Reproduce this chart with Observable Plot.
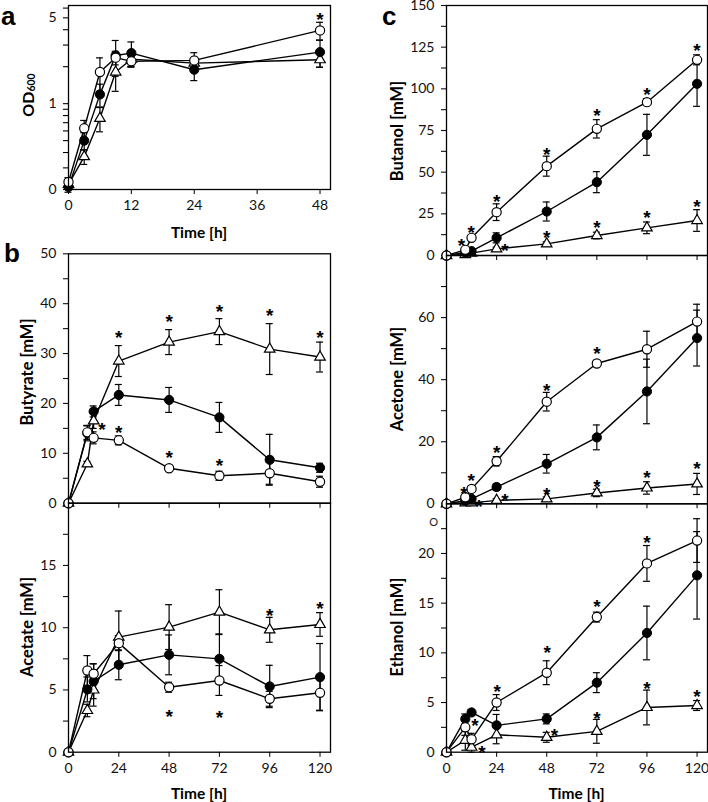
<!DOCTYPE html>
<html><head><meta charset="utf-8">
<script src="https://cdn.jsdelivr.net/npm/d3@7"></script>
<script src="https://cdn.jsdelivr.net/npm/@observablehq/plot@0.6"></script>
<style>
body{margin:0;background:#fff;}
#wrap{position:relative;width:708px;height:802px;overflow:hidden;background:#fff;font-family:Lato,sans-serif;}
#wrap svg{position:absolute;left:0;top:0;}
</style></head><body><div id="wrap"></div>
<script>
// ---------- Panel a: OD600 ----------
const odTimes = [0, 3, 6, 9, 12, 24, 48];
const odOpen = [0.23, 0.63, 1.81, 2.37, 2.21, 2.25, 3.95];
const odOpenSd = [0.02, 0.1, 0.55, 0.3, 0.2, 0.35, 0.65];
const odFilled = [0.21, 0.50, 1.19, 2.47, 2.58, 1.89, 2.63];
const odFilledSd = [0.02, 0.08, 0.25, 0.8, 0.6, 0.35, 0.65];
const odTri = [0.22, 0.37, 0.76, 1.81, 2.3, 2.14, 2.28];
const odTriSd = [0.02, 0.05, 0.17, 0.55, 0.3, 0.2, 0.3];
const odStarT = [48];
const odStarV = [5.4];
const odTicks = [0.2, 1, 5];
const odTickLabels = ["0", "1", "5"];
const odMinor = [0.3, 0.4, 0.5, 0.6, 0.7, 0.8, 0.9, 2, 3, 4, 6];
const odXTicks = [0, 12, 24, 36, 48];

// ---------- Panels b, c: time course ----------
const times = [0, 9, 12, 24, 48, 72, 96, 120];
const timeTicks = [0, 24, 48, 72, 96, 120];

const butyrateOpen = [0, 14.2, 13.1, 12.6, 7.0, 5.5, 6.0, 4.3];
const butyrateOpenSd = [0, 1.4, 1.2, 0.9, 0.4, 0.9, 2.2, 1.1];
const butyrateFilled = [0, 14.0, 18.4, 21.7, 20.7, 17.2, 8.7, 7.1];
const butyrateFilledSd = [0, 1.5, 1.1, 2.1, 2.5, 3.0, 5.1, 0.9];
const butyrateTri = [0, 7.9, 16.5, 28.5, 32.3, 34.4, 30.9, 29.3];
const butyrateTriSd = [0, 0.5, 1.5, 3.1, 2.5, 2.6, 5.1, 3.0];
const butyrateStarT = [16, 24, 24, 48, 48, 72, 72, 96, 120];
const butyrateStarV = [15.9, 15.2, 34.3, 37.6, 10.2, 39.6, 8.6, 38.8, 34.4];

const acetateOpen = [0, 6.56, 6.3, 8.76, 5.22, 5.76, 4.29, 4.77];
const acetateOpenSd = [0, 1.2, 0.8, 0.6, 0.4, 1.2, 0.6, 1.4];
const acetateFilled = [0, 5.04, 5.7, 7.02, 7.82, 7.5, 5.28, 6.03];
const acetateFilledSd = [0, 1.0, 1.4, 1.2, 1.6, 2.0, 1.7, 2.7];
const acetateTri = [0, 3.35, 5.0, 9.24, 10.05, 11.25, 9.83, 10.26];
const acetateTriSd = [0, 0.5, 1.3, 2.1, 1.8, 1.8, 1.0, 0.95];
const acetateStarT = [48, 72, 96, 120];
const acetateStarV = [3.3, 3.2, 11.4, 12.0];

const butanolOpen = [0, 3.4, 10.6, 26, 53.6, 76, 92, 117.4];
const butanolOpenSd = [0, 0.8, 1.5, 5, 6, 5.5, 2, 3];
const butanolFilled = [0, 1.8, 2.6, 10.6, 26.4, 44, 72.4, 103];
const butanolFilledSd = [0, 0.5, 0.8, 3, 5.7, 6.3, 12.3, 13.5];
const butanolTri = [0, 0.6, 1.4, 4, 7, 12, 16.6, 21];
const butanolTriSd = [0, 0.3, 0.5, 1, 1.2, 2, 3.5, 6.5];
const butanolStarT = [7.2, 11.8, 24, 28, 48, 48, 72, 72, 96, 96, 120, 120];
const butanolStarV = [9.4, 17, 36, 6.4, 64, 14, 87.4, 20, 100, 26.4, 126.4, 33];

const acetoneOpen = [0, 2.1, 4.8, 13.7, 32.9, 45.2, 49.8, 58.7];
const acetoneOpenSd = [0, 0.5, 0.8, 1.5, 3, 1, 5.8, 5.6];
const acetoneFilled = [0, 1.0, 1.6, 5.4, 12.9, 21.4, 36.2, 53.4];
const acetoneFilledSd = [0, 0.3, 0.5, 1, 3, 4, 10.4, 9];
const acetoneTri = [0, 0.3, 0.3, 1.1, 1.6, 3.5, 5.1, 6.4];
const acetoneTriSd = [0, 0.2, 0.2, 0.5, 0.6, 1.2, 2, 3.4];
const acetoneStarT = [8.3, 11.8, 24, 15.5, 28, 48, 48, 72, 72, 96, 120];
const acetoneStarV = [5.1, 9.4, 18.4, 0.9, 2.9, 38.4, 4.8, 50.2, 7.3, 10.2, 13.1];

const ethanolOpen = [0, 2.5, 1.3, 5.0, 8.0, 13.6, 19.0, 21.3];
const ethanolOpenSd = [0, 0.8, 0.6, 0.8, 1.2, 0.5, 1.8, 2.2];
const ethanolFilled = [0, 3.35, 4.0, 2.7, 3.35, 7.0, 12.0, 17.8];
const ethanolFilledSd = [0, 0.5, 0.3, 1.1, 0.5, 1.0, 2.7, 4.4];
const ethanolTri = [0, 1.2, 0.5, 1.75, 1.5, 2.1, 4.5, 4.7];
const ethanolTriSd = [0, 1.0, 0.5, 0.9, 0.5, 1.2, 1.75, 0.5];
const ethanolStarT = [13.6, 17, 24.3, 48.2, 51.7, 72, 72, 96, 96, 120];
const ethanolStarV = [3.25, 0.57, 6.7, 10.55, 2.24, 15.2, 4.0, 21.7, 7.0, 6.2];

// ---------- helpers ----------
const W = 708, H = 802;
const FONT = "Lato, 'Open Sans', sans-serif";
const rows = (t, v, e) => t.map((x, i) => ({t: x, v: v[i], e: e[i]}));
const starRows = (t, v) => t.map((x, i) => ({t: x, v: v[i]}));

function yAxisMarks(o) {
  if (o.yType === "log") {
    const x0 = o.xDomain[0];
    const all = [...o.yTicks.map(v => ({v})), ...o.yMinor.map(v => ({v}))];
    const lab = o.yTicks.map((v, i) => ({v, s: o.yLabels[i]}));
    return [
      Plot.ruleY(all, {x1: () => x0, x2: () => x0, y: "v", insetLeft: -5, insetRight: 0, stroke: "black", strokeWidth: 1.1}),
      Plot.text(lab, {x: () => x0, y: "v", text: "s", dx: -12, textAnchor: "end", fontSize: 14, fill: "#111"})
    ];
  }
  return [
    Plot.axisY(o.yMinor, {tickSize: 5, tickFormat: () => "", label: null, strokeWidth: 1.1}),
    Plot.axisY(o.yTicks, {tickSize: 5, tickPadding: 7, tickFormat: d => String(d), label: null, fontSize: 14, strokeWidth: 1.1})
  ];
}

function panel(o) {
  const tri = rows(o.t, o.tri, o.triSd), fil = rows(o.t, o.filled, o.filledSd), opn = rows(o.t, o.open, o.openSd);
  const errMarks = [];
  for (const s of [tri, fil, opn]) {
    const d = s.filter(r => r.e > 0);
    errMarks.push(
      Plot.ruleX(d, {x: "t", y1: r => r.v - r.e, y2: r => r.v + r.e, stroke: "black", strokeWidth: 1.2}),
      Plot.ruleY(d, {x1: "t", x2: "t", y: r => r.v + r.e, insetLeft: -3.5, insetRight: -3.5, stroke: "black", strokeWidth: 1.2}),
      Plot.ruleY(d, {x1: "t", x2: "t", y: r => r.v - r.e, insetLeft: -3.5, insetRight: -3.5, stroke: "black", strokeWidth: 1.2})
    );
  }
  const marks = [
    ...yAxisMarks(o),
    Plot.axisX(o.xTicks, {tickSize: 5, tickPadding: 6, tickFormat: o.xLabels ? (d => String(d)) : () => "", label: null, fontSize: 14, strokeWidth: 1.1}),
    ...errMarks,
    Plot.line(tri, {x: "t", y: "v", stroke: "black", strokeWidth: 1.4}),
    Plot.line(fil, {x: "t", y: "v", stroke: "black", strokeWidth: 1.4}),
    Plot.line(opn, {x: "t", y: "v", stroke: "black", strokeWidth: 1.4}),
    Plot.dot(tri, {x: "t", y: "v", symbol: "triangle", r: 3.9, fill: "white", stroke: "black", strokeWidth: 1.2}),
    Plot.dot(fil, {x: "t", y: "v", r: 4.6, fill: "black", stroke: "black", strokeWidth: 1}),
    Plot.dot(opn, {x: "t", y: "v", r: 4.6, fill: "white", stroke: "black", strokeWidth: 1.2}),
    Plot.text(starRows(o.starT, o.starV), {x: "t", y: "v", text: () => "*", fontSize: 19, fontWeight: "bold", fontFamily: "'Liberation Sans', Arial, sans-serif", dy: 6, fill: "#000"}),
    Plot.frame({stroke: "black", strokeWidth: 1.3}),
    ...(o.extra || [])
  ];
  return Plot.plot({
    width: W, height: H,
    marginLeft: o.box[0], marginRight: W - o.box[1], marginTop: o.box[2], marginBottom: H - o.box[3],
    x: {domain: o.xDomain},
    y: o.yType === "log" ? {type: "log", domain: o.yDomain, axis: null} : {type: "linear", domain: o.yDomain},
    style: {background: "transparent", fontFamily: FONT, fontSize: "14px", color: "#111", overflow: "visible"},
    marks
  });
}

const wrap = document.getElementById("wrap");
const L1 = 68, R1 = 330, L2 = 446, R2 = 707;
const yA = [5, 189], yB = [253.3, 502.7, 751.7], yC = [5, 255, 503.3, 751.7];

wrap.append(panel({
  t: odTimes, open: odOpen, openSd: odOpenSd, filled: odFilled, filledSd: odFilledSd, tri: odTri, triSd: odTriSd,
  starT: odStarT, starV: odStarV, xDomain: [0, 50], xTicks: odXTicks, xLabels: true,
  yType: "log", yDomain: [0.2, 6.3], yTicks: odTicks, yLabels: odTickLabels, yMinor: odMinor, box: [L1, R1, yA[0], yA[1]]
}));
wrap.append(panel({
  t: times, open: butyrateOpen, openSd: butyrateOpenSd, filled: butyrateFilled, filledSd: butyrateFilledSd, tri: butyrateTri, triSd: butyrateTriSd,
  starT: butyrateStarT, starV: butyrateStarV, xDomain: [0, 125], xTicks: timeTicks, xLabels: false,
  yDomain: [0, 50], yTicks: [0, 10, 20, 30, 40, 50], yMinor: [5, 15, 25, 35, 45], box: [L1, R1, yB[0], yB[1]]
}));
wrap.append(panel({
  t: times, open: acetateOpen, openSd: acetateOpenSd, filled: acetateFilled, filledSd: acetateFilledSd, tri: acetateTri, triSd: acetateTriSd,
  starT: acetateStarT, starV: acetateStarV, xDomain: [0, 125], xTicks: timeTicks, xLabels: true,
  yDomain: [0, 20], yTicks: [0, 5, 10, 15], yMinor: [2.5, 7.5, 12.5, 17.5], box: [L1, R1, yB[1], yB[2]]
}));
wrap.append(panel({
  t: times, open: butanolOpen, openSd: butanolOpenSd, filled: butanolFilled, filledSd: butanolFilledSd, tri: butanolTri, triSd: butanolTriSd,
  starT: butanolStarT, starV: butanolStarV, xDomain: [0, 125], xTicks: timeTicks, xLabels: false,
  yDomain: [0, 150], yTicks: [0, 25, 50, 75, 100, 125, 150], yMinor: [12.5, 37.5, 62.5, 87.5, 112.5, 137.5], box: [L2, R2, yC[0], yC[1]]
}));
wrap.append(panel({
  t: times, open: acetoneOpen, openSd: acetoneOpenSd, filled: acetoneFilled, filledSd: acetoneFilledSd, tri: acetoneTri, triSd: acetoneTriSd,
  starT: acetoneStarT, starV: acetoneStarV, xDomain: [0, 125], xTicks: timeTicks, xLabels: false,
  yDomain: [0, 80], yTicks: [0, 20, 40, 60], yMinor: [10, 30, 50, 70], box: [L2, R2, yC[1], yC[2]]
}));
wrap.append(panel({
  t: times, open: ethanolOpen, openSd: ethanolOpenSd, filled: ethanolFilled, filledSd: ethanolFilledSd, tri: ethanolTri, triSd: ethanolTriSd,
  starT: ethanolStarT, starV: ethanolStarV, xDomain: [0, 125], xTicks: timeTicks, xLabels: true,
  yDomain: [0, 25], yTicks: [0, 5, 10, 15, 20], yMinor: [2.5, 7.5, 12.5, 17.5, 22.5], box: [L2, R2, yC[2], yC[3]],
  extra: [Plot.text([{t: -6.1, v: 23.1}], {x: "t", y: "v", text: () => "O", fontSize: 11, fill: "#222"})]
}));

// ---------- titles & panel letters ----------
const svg = d3.select(wrap).append("svg").attr("width", W).attr("height", H)
  .style("font-family", FONT).style("overflow", "visible");
const letters = [["a", 1, 25], ["b", 4, 262], ["c", 382, 25]];
for (const [s, x, y] of letters)
  svg.append("text").attr("x", x).attr("y", y).text(s)
    .style("font-family", "'Liberation Sans', Arial, sans-serif").style("font-weight", 900).style("font-size", "26px");
const xTitles = [[199, 231.7], [199, 793], [576.5, 793]];
for (const [x, y] of xTitles)
  svg.append("text").attr("x", x).attr("y", y).attr("text-anchor", "middle").attr("dominant-baseline", "central")
    .style("font-weight", 700).style("font-size", "15.5px").text("Time [h]");
const yTitles = [["Butyrate [mM]", 27, 372], ["Acetate [mM]", 27, 627], ["Butanol [mM]", 397, 131], ["Acetone [mM]", 397, 379], ["Ethanol [mM]", 397, 627]];
for (const [s, x, y] of yTitles)
  svg.append("text").attr("transform", `translate(${x},${y}) rotate(-90)`).attr("text-anchor", "middle").attr("dominant-baseline", "central")
    .style("font-weight", 700).style("font-size", "16.5px").text(s);
const od = svg.append("text").attr("transform", "translate(27,95) rotate(-90)").attr("text-anchor", "middle").attr("dominant-baseline", "central")
  .style("font-weight", 700).style("font-size", "16px");
od.append("tspan").text("OD");
od.append("tspan").attr("dy", "0.35em").style("font-size", "10.5px").text("600");
</script></body></html>
